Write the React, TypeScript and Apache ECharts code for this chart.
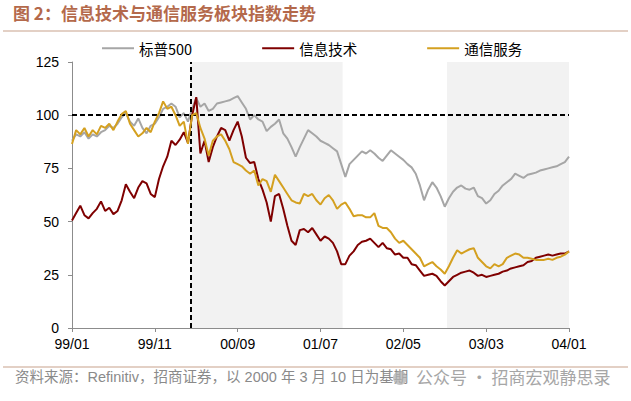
import React, { useEffect, useRef } from "react";
import * as echarts from "echarts";

// Half-monthly readings from 1999/01 to 2004/01 (index / 2 = months since 1999-01)
const sp500 = [
  88, 91, 90, 92, 89, 91, 90, 92, 93, 95,
  94, 96, 99, 101, 97, 95, 98.5, 94, 91.5, 95,
  96, 99, 103, 104, 105.5, 104, 99, 101, 97, 103,
  108, 104, 105.5, 102, 103, 105.5, 106, 106.5, 107, 108,
  109, 106, 103, 98, 100, 98, 97, 92.5, 94.5, 96,
  98, 91.5, 89, 85, 80.5, 85, 89, 93, 91.5, 90,
  88, 87, 86, 84.5, 83, 77, 71, 77, 79, 81,
  83, 82, 83.5, 82, 80, 78.5, 81, 83.5, 82, 80.5,
  79, 77, 75.5, 72.5, 67, 60, 65, 68.5, 66, 62,
  57, 61, 64, 66, 67, 65.5, 65, 66, 62, 61,
  58.5, 60, 63, 64.5, 67, 68.5, 70, 72.5, 71.5, 70.5,
  72, 72.5, 73, 74, 74.5, 75, 75.5, 76, 77, 78,
  80.5,
];

const infoTech = [
  50.5, 54, 57.5, 53, 51.5, 54, 56, 59.5, 55, 56.5,
  53.5, 55, 60, 67.5, 64, 61, 66, 69, 68, 63,
  61.5, 70, 76, 80.5, 88, 86, 88.5, 92, 87, 100,
  108.5, 82, 88, 78, 85, 90, 94, 93, 88, 93,
  97, 90, 80, 77.5, 78, 70, 65, 59, 50, 62,
  63, 56, 48, 41, 39, 46, 46.5, 45, 47, 44,
  41, 43, 42, 40, 36, 30, 30, 34, 36, 39,
  40.5, 41, 42, 40, 38, 40, 37.5, 37, 34.5, 35,
  33, 33, 30, 29.5, 27, 24.5, 25, 25.5, 24.5, 22,
  20, 22, 24, 25, 26, 26.5, 27, 26, 24.5, 25,
  24, 24.5, 25, 25.5, 26.5, 27, 28, 28.5, 29, 29.5,
  31, 31.5, 33, 33.5, 34, 34.5, 34, 34.5, 35, 35,
  36,
];

const commServices = [
  86.5, 93, 91, 94, 90, 93, 91, 95, 94, 96,
  93, 97, 100.5, 102, 96, 93, 90, 91.5, 94, 92,
  97, 101, 106.5, 103, 104, 100, 95, 97, 86.5, 100,
  101, 94, 89, 81, 88, 90, 91, 88, 84, 78,
  77, 76, 74, 72.5, 74, 67, 70, 69, 64, 72,
  69, 66, 63, 60, 59, 58.5, 63, 62, 63, 60,
  58, 61, 62.5, 60, 56, 58, 59, 56, 52.5, 53,
  53, 52, 52, 54, 48, 47, 47, 45, 42, 40,
  41, 39, 37, 35, 33, 29, 30, 31, 29, 27.5,
  25.5, 29, 33, 36.5, 35, 36, 37, 37.5, 33, 31,
  29, 28, 30, 29, 30, 33, 34, 35, 34.5, 33,
  33, 32.5, 32, 32, 32, 32.5, 32, 33, 33.5, 34.5,
  36,
];

const seriesNames = ["标普500", "信息技术", "通信服务"];
const seriesColors = ["#A6A6A6", "#7F0000", "#D4A020"];
const baseDate = 14.29; // 2000-03-10, months since 1999-01
const shadedPeriods = [
  [14.29, 32.67],
  [45.27, 60],
];
const baseLevel = 100;

const pad = (n: number) => (n < 10 ? "0" + n : "" + n);
const monthLabel = (v: number) => {
  const y = (99 + Math.floor(v / 12)) % 100;
  const m = Math.round(v % 12) + 1;
  return pad(y) + "/" + pad(m);
};

export default function App() {
  const ref = useRef<HTMLDivElement>(null);
  useEffect(() => {
    document.body.style.margin = "0";
    const chart = echarts.init(ref.current!, null, { renderer: "svg" });
    const toData = (arr: number[]) => arr.map((v, i) => [i / 2, v]);
    const latin = "'Liberation Sans', Arial, 'Noto Sans CJK SC', sans-serif";
    const cjk = "'Noto Sans CJK SC', 'Liberation Sans', sans-serif";
    const allSeries = [sp500, infoTech, commServices].map((arr, k) => {
      const s: any = {
        name: seriesNames[k],
        type: "line",
        data: toData(arr),
        showSymbol: false,
        symbol: "none",
        lineStyle: { width: 2, color: seriesColors[k] },
        itemStyle: { color: seriesColors[k] },
        z: 3 + k,
      };
      if (k === 0) {
        s.markArea = {
          silent: true,
          itemStyle: { color: "#F2F2F2" },
          data: shadedPeriods.map((p) => [{ xAxis: p[0] }, { xAxis: p[1] }]),
        };
      }
      if (k === 2) {
        s.markLine = {
          silent: true,
          symbol: ["none", "none"],
          label: { show: false },
          lineStyle: { type: [5, 3], color: "#000", width: 2 },
          data: [{ yAxis: baseLevel }, { xAxis: baseDate }],
        };
      }
      return s;
    });

    chart.setOption({
      animation: false,
      grid: { left: 72, right: 62, top: 62, bottom: 73, containLabel: false },
      legend: {
        data: seriesNames,
        left: 102,
        top: 41,
        icon: "rect",
        itemWidth: 32,
        itemHeight: 2,
        itemGap: 70,
        padding: 0,
        textStyle: { fontSize: 14.5, color: "#000", fontFamily: cjk },
      },
      xAxis: {
        type: "value",
        min: 0,
        max: 60,
        interval: 10,
        axisLine: { lineStyle: { color: "#8C8C8C", width: 1 } },
        axisTick: { show: true, length: 4, inside: false, lineStyle: { color: "#8C8C8C" } },
        splitLine: { show: false },
        axisLabel: {
          formatter: monthLabel,
          fontSize: 14,
          color: "#000",
          margin: 9,
          fontFamily: latin,
        },
      },
      yAxis: {
        type: "value",
        min: 0,
        max: 125,
        interval: 25,
        axisLine: { show: true, lineStyle: { color: "#8C8C8C", width: 1 } },
        axisTick: { show: true, length: 4, inside: false, lineStyle: { color: "#8C8C8C" } },
        splitLine: { show: false },
        axisLabel: { fontSize: 14, color: "#000", margin: 13, fontFamily: latin },
      },
      series: allSeries,
      graphic: [
        {
          type: "text",
          left: 13,
          top: 4,
          style: {
            text: "图 2：信息技术与通信服务板块指数走势",
            fontSize: 17,
            fontWeight: "bold",
            fill: "#B4694B",
            fontFamily: cjk,
          },
        },
        {
          type: "line",
          shape: { x1: 3, y1: 31, x2: 628, y2: 31 },
          style: { stroke: "#C8A28C", lineWidth: 1.2 },
        },
        {
          type: "line",
          shape: { x1: 3, y1: 367, x2: 628, y2: 367 },
          style: { stroke: "#C8A28C", lineWidth: 1.2 },
        },
        {
          type: "text",
          left: 15,
          top: 370,
          style: {
            text: "资料来源：Refinitiv，招商证券，以 2000 年 3 月 10 日为基期",
            fontSize: 14.5,
            fill: "#8A8A8A",
            fontFamily: latin,
          },
        },
        {
          type: "circle",
          shape: { cx: 400, cy: 378, r: 7 },
          style: { fill: "#B0B0B0", opacity: 0.75 },
        },
        {
          type: "text",
          left: 416,
          top: 368,
          style: {
            text: "公众号 · 招商宏观静思录",
            fontSize: 17,
            fill: "#A6A6A6",
            fontFamily: cjk,
          },
        },
      ],
    });
    return () => chart.dispose();
  }, []);
  return <div ref={ref} style={{ width: 631, height: 401 }} />;
}
